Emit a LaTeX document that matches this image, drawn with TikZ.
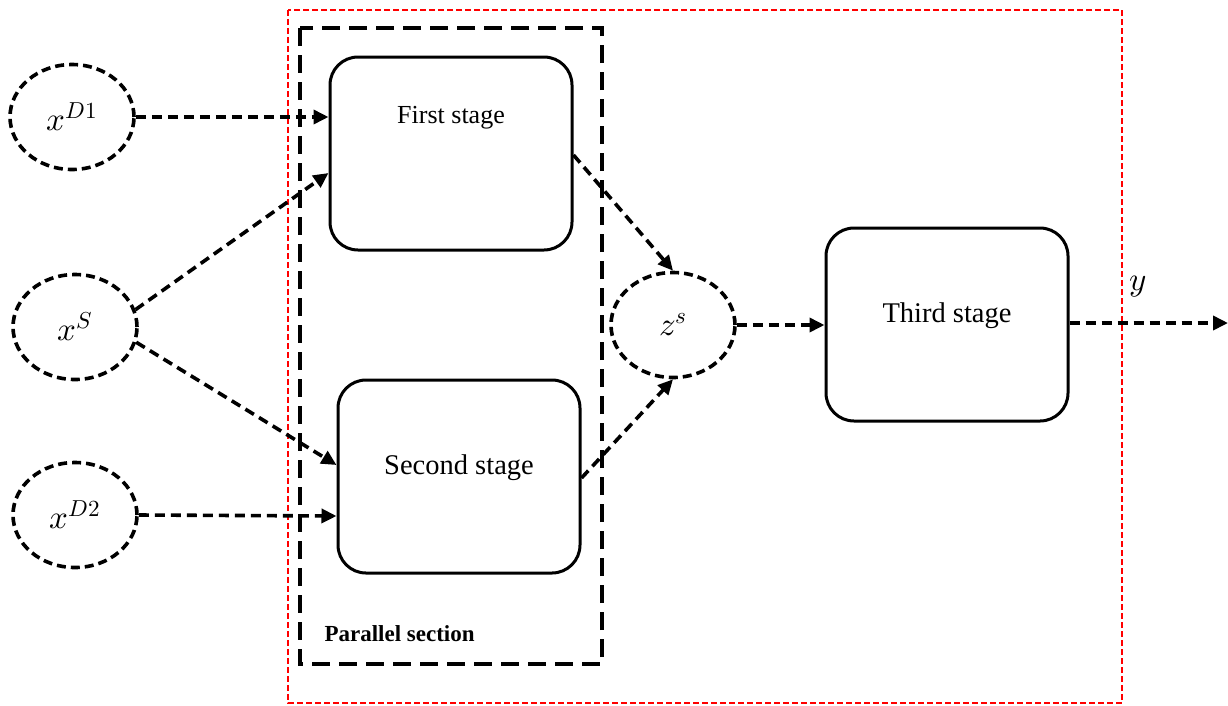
\documentclass[tikz,border=0pt]{standalone}
\usepackage{fontspec}
\usepackage{unicode-math}
\setmainfont{Liberation Serif}
\setmathfont{Latin Modern Math}
\usetikzlibrary{arrows.meta,shapes.geometric}
\begin{document}
\begin{tikzpicture}[x=1pt,y=-1pt,
  stagebox/.style={draw,line width=3pt,rounded corners=28pt,minimum width=242pt,minimum height=193pt,inner sep=0pt},
  varnode/.style={draw,ellipse,line width=3.6pt,dash pattern=on 9pt off 5pt,minimum width=124pt,minimum height=105pt,inner sep=0pt,font=\fontsize{33}{36}\selectfont},
  flow/.style={line width=3.6pt,dash pattern=on 10pt off 6pt,-{Triangle[length=15pt,width=14pt]}},
  group/.style={draw,line width=3.6pt,dash pattern=on 18pt off 9pt},
  frame/.style={draw,red,line width=1.8pt,dash pattern=on 6pt off 3pt}
]
\useasboundingbox (0,0) rectangle (1228,705);
% outer frame and parallel group
\draw[frame] (288,10) rectangle (1122,703);
\draw[group] (300,28) rectangle (602,664);
\node[anchor=west,font=\fontsize{23}{26}\selectfont\bfseries] (ptitle) at (321,634) {Parallel section};
% stages
\node[stagebox] (s1) at (451,153.5) {};
\node[font=\fontsize{26}{30}\selectfont] (s1t) at (451,118) {First stage};
\node[stagebox] (s2) at (459,476.5) {};
\node[font=\fontsize{28.5}{32}\selectfont] (s2t) at (459,468) {Second stage};
\node[stagebox] (s3) at (947,324.5) {};
\node[font=\fontsize{28.5}{32}\selectfont] (s3t) at (947,316) {Third stage};
% variables
\node[varnode] (xd1) at (72,117) {$x^{D1}$};
\node[varnode] (xs) at (75,327) {$x^{S}$};
\node[varnode] (xd2) at (75,515) {$x^{D2}$};
\node[varnode] (zs) at (673,325) {$z^{s}$};
\coordinate (yout) at (1228,323);
\node[font=\fontsize{33}{36}\selectfont] (ylab) at (1138,287) {$y$};
% connectors
\draw[flow] (xd1.east) -- (s1.west |- xd1.east);
\draw[flow] (xs.16) -- (s1.west |- 0,173);
\draw[flow] (xs.-14) -- (s2.west |- 0,465);
\draw[flow] (xd2.east) -- (s2.west |- 0,516);
\draw[flow] (s1.east |- 0,155) -- (zs.north);
\draw[flow] (s2.east |- 0,478) -- (zs.south);
\draw[flow] (zs.east) -- (s3.west |- zs.east);
\draw[flow] (s3.east |- yout) -- (yout);
\end{tikzpicture}
\end{document}
